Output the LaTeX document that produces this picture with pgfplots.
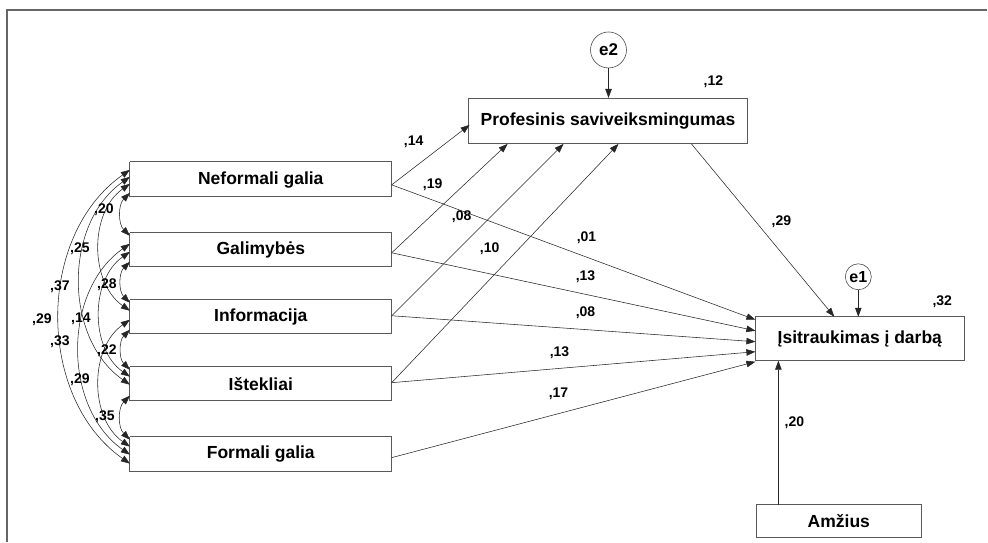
\documentclass[border=0pt]{standalone}
\usepackage{fontspec}
\setmainfont{Liberation Sans}
\usepackage{pgfplots}
\pgfplotsset{compat=1.18}
\usetikzlibrary{arrows.meta}
\begin{document}
\begin{tikzpicture}[
  box/.style={draw=black!65, line width=0.8pt},
  ar/.style={-{Triangle[length=9pt,width=6.5pt]}, draw=black!85, line width=0.55pt},
  cov/.style={{Triangle[length=9pt,width=6.5pt]}-{Triangle[length=9pt,width=6.5pt]}, draw=black!85, line width=0.55pt},
  bt/.style={font=\fontsize{17.5}{20}\selectfont\bfseries, inner sep=0pt},
  nt/.style={font=\fontsize{14}{16}\selectfont\bfseries, inner sep=0pt},
]
\begin{axis}[
  scale only axis, width=988pt, height=542pt,
  xmin=0, xmax=988, ymin=0, ymax=542, y dir=reverse,
  hide axis, clip=false,
]
\path (rel axis cs:0,0) rectangle (rel axis cs:1,1);
% frame
\addplot[black!60, line width=1.6pt] coordinates {(7,542) (7,10) (988,10)};
% boxes
\addplot[box] coordinates {(130,162) (392,162) (392,197) (130,197) (130,162)};
\addplot[box] coordinates {(130,233) (392,233) (392,267) (130,267) (130,233)};
\addplot[box] coordinates {(130,300) (392,300) (392,334) (130,334) (130,300)};
\addplot[box] coordinates {(130,367) (392,367) (392,401) (130,401) (130,367)};
\addplot[box] coordinates {(130,437) (392,437) (392,472) (130,472) (130,437)};
\addplot[box] coordinates {(469,98) (748,98) (748,144) (469,144) (469,98)};
\addplot[box] coordinates {(756,317) (965,317) (965,361) (756,361) (756,317)};
\addplot[box] coordinates {(757,505) (922,505) (922,538) (757,538) (757,505)};
% box texts
\node[bt] at (axis cs:261,180) {Neformali galia};
\node[bt] at (axis cs:261,250) {Galimybės};
\node[bt] at (axis cs:261,317) {Informacija};
\node[bt] at (axis cs:261,384) {Ištekliai};
\node[bt] at (axis cs:261,454) {Formali galia};
\node[bt] at (axis cs:608.5,121) {Profesinis saviveiksmingumas};
\node[bt] at (axis cs:860.5,339) {Įsitraukimas į darbą};
\node[bt] at (axis cs:839.5,521.5) {Amžius};
% error terms
\node[draw=black!70, line width=0.6pt, circle, minimum size=36pt, inner sep=0pt, font=\fontsize{17}{20}\selectfont\bfseries] at (axis cs:609,50) {e2};
\node[draw=black!70, line width=0.6pt, circle, minimum size=26pt, inner sep=0pt, font=\fontsize{16}{18}\selectfont\bfseries] at (axis cs:859,277) {e1};
\addplot[ar] coordinates {(609,68) (609,98)};
\addplot[ar] coordinates {(859,290) (859,317)};
% paths to Profesinis
\addplot[ar] coordinates {(392,185) (470,125)};
\addplot[ar] coordinates {(392,253) (508,144)};
\addplot[ar] coordinates {(392,316) (564,144)};
\addplot[ar] coordinates {(392,383) (619,144)};
% paths to Isitraukimas
\addplot[ar] coordinates {(392,185) (756,320)};
\addplot[ar] coordinates {(392,253) (756,331)};
\addplot[ar] coordinates {(392,316) (756,342)};
\addplot[ar] coordinates {(392,383) (756,352)};
\addplot[ar] coordinates {(392,458) (756,362)};
\addplot[ar] coordinates {(692,144) (835,317)};
\addplot[ar] coordinates {(779,505) (779,361)};
% covariances
\draw[cov] (axis cs:130,193) to[bend right=45] (axis cs:130,236);
\draw[cov] (axis cs:130,184) to[bend right=55] (axis cs:130,311);
\draw[cov] (axis cs:130,177) to[bend right=55] (axis cs:130,385);
\draw[cov] (axis cs:130,170) to[bend right=55] (axis cs:130,464);
\draw[cov] (axis cs:130,262) to[bend right=45] (axis cs:130,303);
\draw[cov] (axis cs:130,252) to[bend right=55] (axis cs:130,377);
\draw[cov] (axis cs:130,244) to[bend right=55] (axis cs:130,455);
\draw[cov] (axis cs:130,330) to[bend right=45] (axis cs:130,370);
\draw[cov] (axis cs:130,320) to[bend right=55] (axis cs:130,447);
\draw[cov] (axis cs:130,396) to[bend right=45] (axis cs:130,440);
% coefficient labels
\node[nt] at (axis cs:104,210) {,20};
\node[nt] at (axis cs:80,249) {,25};
\node[nt] at (axis cs:60,287) {,37};
\node[nt] at (axis cs:107,285) {,28};
\node[nt] at (axis cs:42,320) {,29};
\node[nt] at (axis cs:81,319) {,14};
\node[nt] at (axis cs:60,342) {,33};
\node[nt] at (axis cs:107,351) {,22};
\node[nt] at (axis cs:80,380) {,29};
\node[nt] at (axis cs:105,417) {,35};
\node[nt] at (axis cs:414,142) {,14};
\node[nt] at (axis cs:433,185) {,19};
\node[nt] at (axis cs:462,217) {,08};
\node[nt] at (axis cs:490,249) {,10};
\node[nt] at (axis cs:587,238) {,01};
\node[nt] at (axis cs:586,277) {,13};
\node[nt] at (axis cs:586,313) {,08};
\node[nt] at (axis cs:560,353) {,13};
\node[nt] at (axis cs:559,394) {,17};
\node[nt] at (axis cs:782,222) {,29};
\node[nt] at (axis cs:795,423) {,20};
\node[nt] at (axis cs:714,82) {,12};
\node[nt] at (axis cs:943,302) {,32};
\end{axis}
\end{tikzpicture}
\end{document}
